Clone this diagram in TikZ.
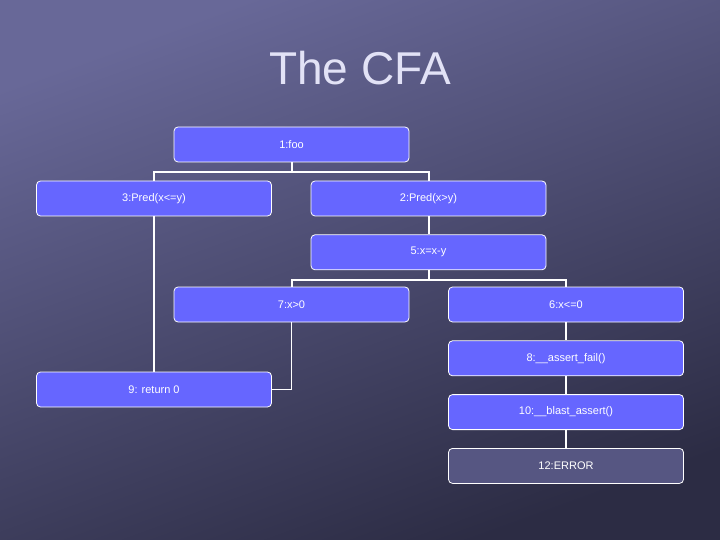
\documentclass[tikz,border=0pt]{standalone}
\usepackage{fontspec}
\setmainfont{Liberation Sans}
\usepackage{tikz}
\usetikzlibrary{positioning, calc}

\definecolor{boxblue}{RGB}{102,102,255}
\definecolor{errfill}{RGB}{86,86,130}
\definecolor{bgtop}{RGB}{104,104,152}
\definecolor{bgbot}{RGB}{44,44,68}
\definecolor{titlecol}{RGB}{226,226,246}

\begin{document}
\begin{tikzpicture}[
x=1pt, y=-1pt,
box/.style={rectangle, draw=white, line width=0.8pt, rounded corners=4pt, fill=boxblue, text=white, align=center, font=\fontsize{11}{13}\selectfont, minimum width=235pt, minimum height=35pt},
errbox/.style={box, fill=errfill},
link/.style={draw=white, line width=2pt},
thinlink/.style={draw=white, line width=1.2pt}
]
% background
\shade[top color=bgtop, bottom color=bgbot, shading angle=20] (0,0) rectangle (720,540);
\useasboundingbox (0,0) rectangle (720,540);

\node[font=\fontsize{46}{50}\selectfont, text=titlecol] (title) at (360,68) {The CFA};

\node[box] (foo) at (291.5,144.5) {1:foo};
\node[box] (predle) at (154,198.5) {3:Pred(x<=y)};
\node[box] (predgt) at (428.5,198.5) {2:Pred(x>y)};
\node[box, below=18pt of predgt] (assign) {5:x=x-y};
\node[box] (gt) at (291.5,304.5) {7:x>0};
\node[box] (le) at (566,304.5) {6:x<=0};
\node[box, below=18pt of le] (afail) {8:\_\_assert\_fail()};
\node[box] (ret) at (154,389.5) {9: return 0};
\node[box, below=18pt of afail] (bassert) {10:\_\_blast\_assert()};
\node[errbox, below=18pt of bassert] (err) {12:ERROR};

\draw[link] (foo.south) -- ++(0,10) -| (predle.north);
\draw[link] (foo.south) -- ++(0,10) -| (predgt.north);
\draw[link] (predgt) -- (assign);
\draw[link] (assign.south) -- ++(0,10) -| (gt.north);
\draw[link] (assign.south) -- ++(0,10) -| (le.north);
\draw[link] (le) -- (afail);
\draw[link] (afail) -- (bassert);
\draw[link] (bassert) -- (err);
\draw[thinlink] (predle) -- (ret);
\draw[thinlink] (gt.south) |- (ret.east);
\end{tikzpicture}
\end{document}
